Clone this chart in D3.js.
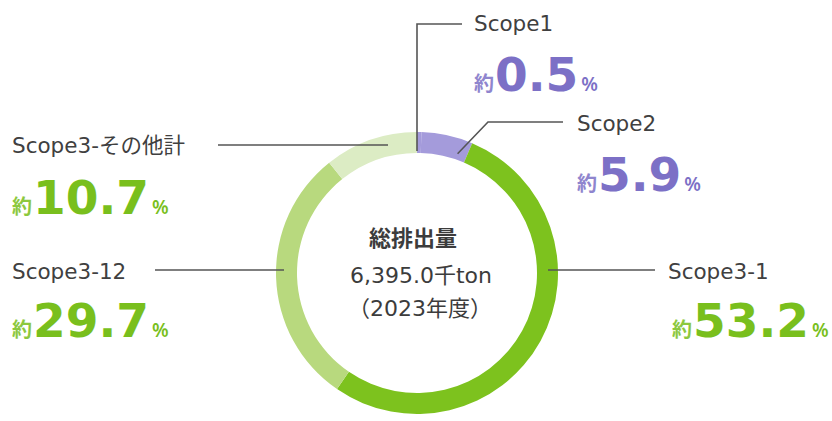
<!DOCTYPE html>
<html>
<head>
<meta charset="utf-8">
<script src="https://cdn.jsdelivr.net/npm/d3@7"></script>
<style>
  html, body { margin: 0; padding: 0; background: #fff; }
  svg { display: block; }
  text { font-family: "DejaVu Sans", "Noto Sans CJK JP", sans-serif; }
</style>
</head>
<body>
<svg id="chart" width="832" height="421"></svg>
<script>
// ---- data ----
const categories = ["Scope1", "Scope2", "Scope3-1", "Scope3-12", "Scope3-その他計"];
const shares = [0.5, 5.9, 53.2, 29.7, 10.7];
const sliceColors = ["#a49bdb", "#a49bdb", "#7dc21e", "#b8d97e", "#dcecc4"];
const labelColors = ["#7c70c6", "#7c70c6", "#79bf1d", "#79bf1d", "#79bf1d"];
const totalLines = ["総排出量", "6,395.0千ton", "（2023年度）"];

// ---- layout ----
const W = 832, H = 421;
const cx = 417, cy = 273;
const rOuter = 141, rInner = 120;

const svg = d3.select("#chart");
svg.append("rect").attr("width", W).attr("height", H).attr("fill", "#fff");

const g = svg.append("g").attr("transform", `translate(${cx},${cy})`);

const pie = d3.pie().sort(null).value(d => d).startAngle(0).endAngle(2 * Math.PI);
const arcs = pie(shares);
const arc = d3.arc().innerRadius(rInner).outerRadius(rOuter);

g.selectAll("path.slice")
  .data(arcs)
  .join("path")
  .attr("class", "slice")
  .attr("d", arc)
  .attr("fill", (d, i) => sliceColors[i]);

const polar = (a, r) => [Math.sin(a) * r, -Math.cos(a) * r];

const anchorFrac = [0, 0.8, 0.5, 0.5, 0.5];
const anchor = arcs.map((d, i) => d.startAngle + (d.endAngle - d.startAngle) * anchorFrac[i]);
anchor[2] = 0.5 * Math.PI;
anchor[3] = 1.5 * Math.PI;
anchor[4] = 2 * Math.PI - 0.21;

const labelPos = [
  { x: 474, nameY: 31,  pctX: 474, pctY: 91  },
  { x: 577, nameY: 131, pctX: 577, pctY: 191 },
  { x: 668, nameY: 279, pctX: 672, pctY: 337 },
  { x: 12,  nameY: 279, pctX: 12,  pctY: 337 },
  { x: 12,  nameY: 153, pctX: 12,  pctY: 214 }
];

const lines = svg.append("g").attr("fill", "none").attr("stroke", "#555").attr("stroke-width", 1.6);
{
  const [px, py] = polar(anchor[0], rInner + 2);
  lines.append("path").attr("d", `M${labelPos[0].x - 12},${24} H${cx + px} V${cy + py}`);
}
{
  const [px, py] = polar(anchor[1], rInner + 6);
  lines.append("path").attr("d", `M${labelPos[1].x - 14},${122} H${488} L${cx + px},${cy + py}`);
}
{
  const [px] = polar(anchor[2], rOuter - 10);
  lines.append("path").attr("d", `M${labelPos[2].x - 13},${cy - 3} H${cx + px}`);
}
{
  const [px] = polar(anchor[3], rOuter - 8);
  lines.append("path").attr("d", `M${155},${cy - 3} H${cx + px}`);
}
{
  const [px, py] = polar(anchor[4], rOuter - 2);
  lines.append("path").attr("d", `M${218},${145} H${cx + px}`);
}

const labels = svg.append("g");
categories.forEach((name, i) => {
  const p = labelPos[i];
  labels.append("text")
    .attr("x", p.x).attr("y", p.nameY)
    .attr("font-size", 21.5)
    .attr("fill", "#404040")
    .text(name);
  const t = labels.append("text")
    .attr("x", p.pctX).attr("y", p.pctY)
    .attr("fill", labelColors[i]);
  t.append("tspan").attr("font-family", "Noto Sans CJK JP").attr("font-size", 20).attr("font-weight", 700).attr("opacity", 0.85).text("約");
  t.append("tspan").attr("font-size", 47).attr("font-weight", 700).attr("dx", 1).text(shares[i].toFixed(1));
  t.append("tspan").attr("font-family", "Noto Sans").attr("font-size", 19).attr("font-weight", 600).attr("dx", 3).text("%");
});

const center = svg.append("g").attr("text-anchor", "middle").attr("fill", "#3c3c3c");
center.append("text").attr("x", cx - 4).attr("y", 246).attr("font-size", 22).attr("font-weight", 700).text(totalLines[0]);
center.append("text").attr("x", cx + 4).attr("y", 283).attr("font-size", 22).text(totalLines[1]);
center.append("text").attr("x", cx + 3).attr("y", 316).attr("font-size", 22).text(totalLines[2]);
</script>
</body>
</html>
